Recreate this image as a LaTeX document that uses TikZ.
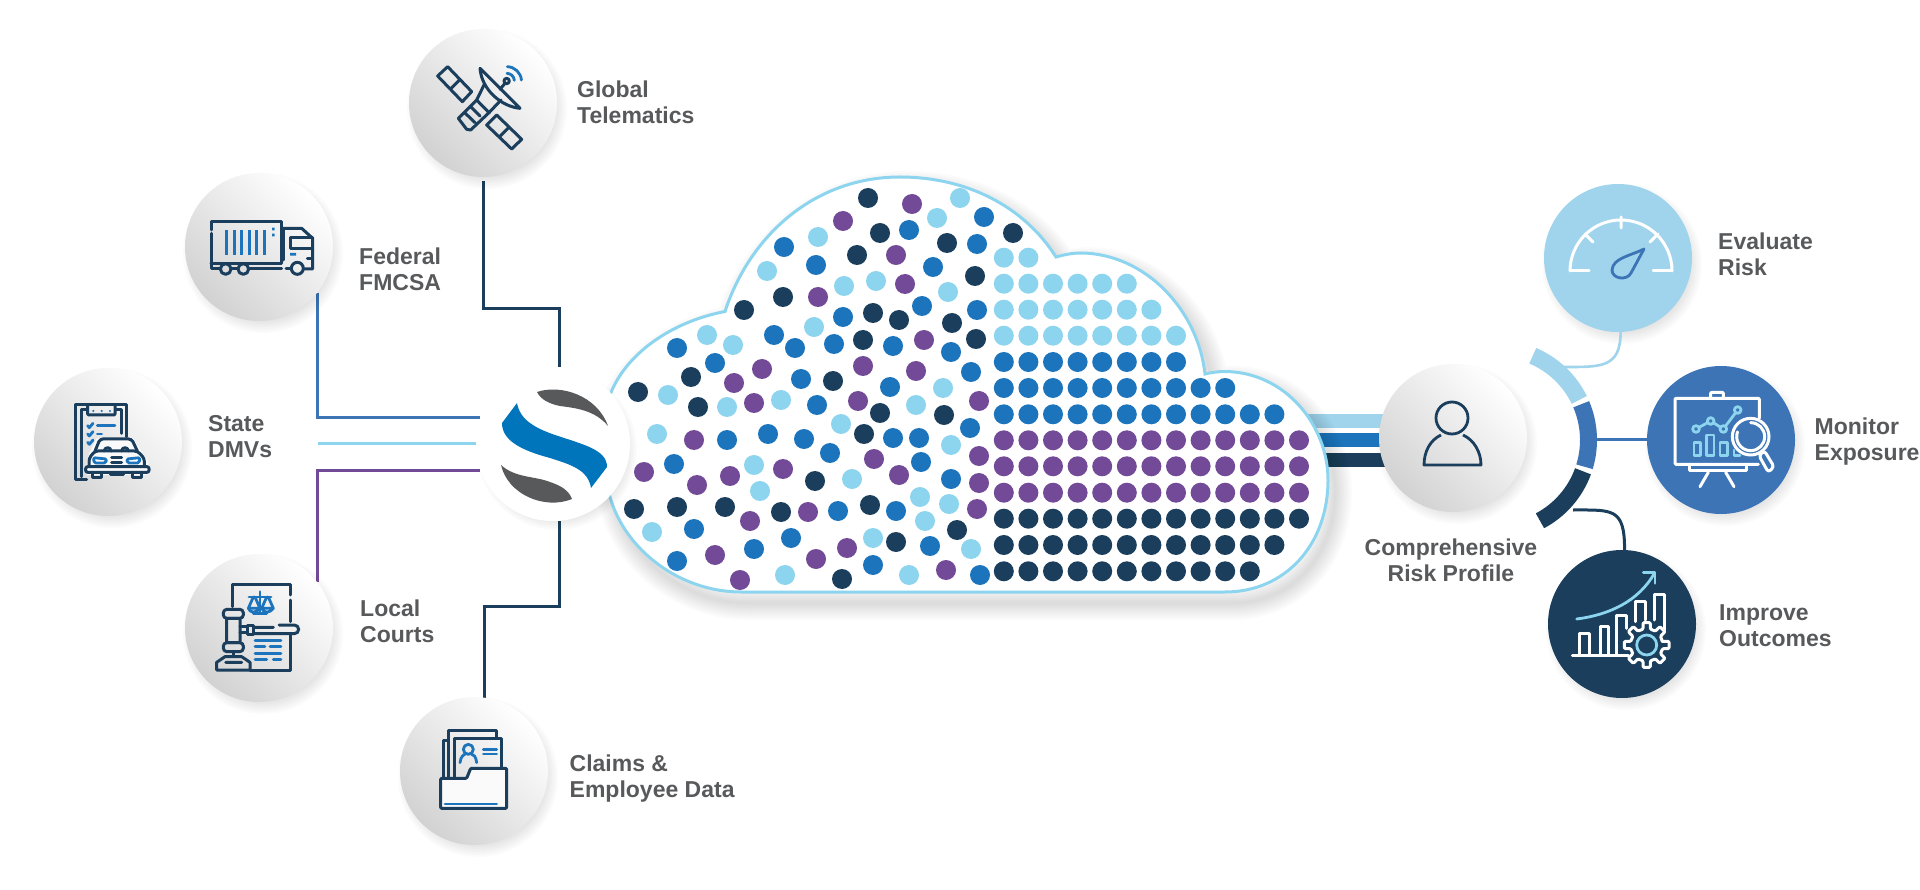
\documentclass[tikz,border=0pt]{standalone}
\usepackage{xcolor}
\usepackage{tikz}
\usepackage{fontspec}
\setmainfont{Liberation Sans}
\definecolor{navy}{HTML}{1A3E5C}
\definecolor{midblue}{HTML}{1C75BC}
\definecolor{steel}{HTML}{3C74B6}
\definecolor{sky}{HTML}{8DD5EE}
\definecolor{palesky}{HTML}{9FD4EC}
\definecolor{grape}{HTML}{734A98}
\definecolor{slate}{HTML}{58595B}
\definecolor{logoblue}{HTML}{0075BB}
\definecolor{discgrey}{HTML}{D2D2D2}
\pgfdeclarelayer{wires}
\pgfsetlayers{wires,main}
\tikzset{
    greydisc/.style={circle,minimum size=148pt,inner sep=0pt,shading=axis,top color=white,middle color=white!98!black,bottom color=discgrey,shading angle=-45},
    tonedisc/.style={circle,minimum size=148pt,inner sep=0pt,fill=#1},
    wire/.style={line width=3pt,color=#1},
    ringpart/.style={line width=17pt,color=#1},
    feedbar/.style={line width=14pt,color=#1},
    caption/.style={text=slate,font=\fontsize{23}{26}\selectfont\bfseries,align=left,anchor=west,inner sep=0pt},
    navyicon/.style={line width=3pt,color=navy,line join=round,line cap=round},
    blueicon/.style={line width=2.8pt,color=midblue,line join=round,line cap=round},
    whiteicon/.style={line width=3pt,color=white,line join=round,line cap=round},
    skyicon/.style={line width=2.8pt,color=sky,line join=round,line cap=round},
}
\newcommand{\discshadow}[2]{
    \foreach \r in {80,78,...,68}
        \fill[black,opacity=.016] (#1+4,#2+6) circle[radius=\r];
}
\newcommand{\cloudpath}{
    (741,592) -- (1225,592)
    .. controls (1285,592) and (1328,545) .. (1328,480)
    .. controls (1328,425) and (1285,372) .. (1225,371.5)
    .. controls (1218,371.5) and (1211,372.5) .. (1205,374)
    .. controls (1198,310) and (1145,253) .. (1080,253)
    .. controls (1072,253) and (1063,255) .. (1056,257)
    .. controls (1023,205) and (965,177) .. (900,177)
    .. controls (815,177) and (750,235) .. (725,311.5)
    .. controls (670,322) and (625,355) .. (610,395)
    .. controls (598,430) and (598,465) .. (610,497)
    .. controls (625,550) and (680,592) .. (741,592) -- cycle
}
\begin{document}
\begin{tikzpicture}[x=1pt,y=-1pt]
    \useasboundingbox (0,0) rectangle (1920,890);

    \begin{scope}[shift={(7,11)}]
        \foreach \w in {34,30,...,2}
            \draw[black,opacity=.016,line width=\w pt,line join=round] \cloudpath;
    \end{scope}
    \draw[sky,line width=3pt,fill=white] \cloudpath;

    \foreach \px/\py in {868/198,880/233,857/255,947/243,1013/233,975/276,783/297,744/310,873/313,899/320,952/323,976/339,863/340,691/377,833/381,638/392,698/407,880/413,944/415,864/434,815/481,634/509,677/507,725/507,781/512,870/505,957/530,896/542,842/579}
        \fill[navy] (\px,\py) circle[radius=10];
    \foreach \px/\py in {912/204,843/221,896/255,905/284,818/297,924/340,762/369,863/366,916/371,734/383,754/403,858/401,979/401,694/440,874/459,979/456,644/472,730/476,783/469,697/485,899/475,979/483,808/512,750/521,977/509,715/555,847/548,816/559,740/580,946/570}
        \fill[grape] (\px,\py) circle[radius=10];
    \foreach \px/\py in {984/217,909/230,784/247,977/244,816/265,933/267,922/306,977/310,843/317,774/335,677/348,795/348,834/344,893/346,951/352,715/363,971/372,801/379,890/387,817/405,970/428,727/440,768/434,804/439,893/438,919/438,830/453,674/464,921/462,951/479,838/511,896/511,694/529,791/538,754/549,930/546,677/561,873/565,980/575}
        \fill[midblue] (\px,\py) circle[radius=10];
    \foreach \px/\py in {960/198,937/218,818/237,767/271,948/292,844/286,876/281,814/327,707/335,733/345,943/388,668/395,727/407,781/400,916/405,657/434,841/424,951/445,754/465,852/479,760/491,920/497,949/504,925/521,652/532,873/538,971/549,785/575,909/575}
        \fill[sky] (\px,\py) circle[radius=10];
    \foreach \py/\n/\tone in {257.7/2/sky,283.7/6/sky,309.7/7/sky,335.7/8/sky,362/8/midblue,388/10/midblue,414.3/12/midblue,440.3/13/grape,466.3/13/grape,492.7/13/grape,518.7/13/navy,545/12/navy,571.3/11/navy}
        \foreach \k in {1,...,\n}
            \fill[\tone] ({1003.8+(\k-1)*24.6},\py) circle[radius=10];

    \foreach \name/\px/\py in {telematics/483/103,fmcsa/259/247,dmvs/108/442,courts/259/628,claims/474/771,profile/1453/438}{
        \discshadow{\px}{\py}
        \node[greydisc] (\name) at (\px,\py) {};
    }
    \discshadow{553}{444}
    \node[circle,minimum size=154pt,inner sep=0pt,fill=white] (logo) at (553,444) {};
    \discshadow{1618}{258}
    \node[tonedisc=palesky] (evaluate) at (1618,258) {};
    \discshadow{1721}{440}
    \node[tonedisc=steel] (monitor) at (1721,440) {};
    \discshadow{1622}{624}
    \node[tonedisc=navy] (improve) at (1622,624) {};

    \coordinate (dmvwire) at (317.5,444);
    \coordinate (barsky) at (1300,421);
    \coordinate (barblue) at (1300,440);
    \coordinate (barnavy) at (1300,460);
    \coordinate (ringmid) at (1497,440);
    \coordinate (ringsky) at (1563,367);
    \coordinate (ringsteel) at (1597,440);
    \coordinate (ringnavy) at (1573,510);

    \begin{pgfonlayer}{wires}
        \draw[wire=navy,shorten <=4pt] (telematics.south) -- ++(0,131) -| (logo.85);
        \draw[wire=steel] (fmcsa.-38) |- (logo.160);
        \draw[wire=sky] (dmvwire) -- (logo.west);
        \draw[wire=grape] (courts.38) |- (logo.200);
        \draw[wire=navy] (logo.-85) -- ++(0,86) -| (claims.82);
        \draw[feedbar=palesky] (barsky) -- (barsky -| profile);
        \draw[feedbar=midblue] (barblue) -- (barblue -| profile);
        \draw[feedbar=navy] (barnavy) -- (barnavy -| profile);
    \end{pgfonlayer}

    \draw[ringpart=palesky] ([shift={(-67:91.5)}]ringmid) arc[start angle=-67,end angle=-26,radius=91.5];
    \draw[ringpart=steel] ([shift={(-23:91.5)}]ringmid) arc[start angle=-23,end angle=17,radius=91.5];
    \draw[ringpart=navy] ([shift={(20:91.5)}]ringmid) arc[start angle=20,end angle=62,radius=91.5];
    \draw[line width=2.6pt,palesky] (evaluate.-88) .. controls +(0,36) and +(38,0) .. (ringsky);
    \draw[wire=steel] (ringsteel) -- (monitor.west);
    \draw[wire=navy] (improve.88) .. controls +(0,-42) and +(40,0) .. (ringnavy);

    \fill[slate] (537,392) .. controls (560,384) and (597,395) .. (608,426) .. controls (595,410) and (575,408) .. (560,406) .. controls (550,404) and (541,400) .. (537,392) -- cycle;
    \fill[logoblue] (517,403) .. controls (520,420) and (535,428) .. (555,435) .. controls (585,445) and (607,450) .. (607,467) -- (591,488) .. controls (588,470) and (572,465) .. (550,458) .. controls (520,450) and (502,440) .. (502,423) -- cycle;
    \fill[slate] (501,465) .. controls (515,478) and (535,476) .. (550,482) .. controls (562,486) and (569,491) .. (572,499) .. controls (545,510) and (508,495) .. (501,465) -- cycle;

    \begin{scope}[shift={(425,50)},scale=1/3]
        \draw[navyicon] (38,78) -- (68,50) -- (140,125) -- (112,155) -- cycle (76,118) -- (105,88);
        \draw[navyicon] (215,195) -- (185,225) -- (260,297) -- (290,268) -- cycle (222,262) -- (252,232);
        \draw[navyicon] (100,205) -- (155,150) -- (192,188) -- (137,240) -- (125,238) -- cycle (118,187) -- (150,218) (137,170) -- (165,198);
        \draw[navyicon] (155,150) -- (178,103) (192,188) -- (228,150);
        \draw[navyicon] (165,55) -- (285,175) .. controls (230,170) and (170,120) .. (165,55) -- cycle;
        \draw[navyicon] (225,118) -- (240,100);
        \draw[navyicon] (245,93) circle[radius=8];
        \draw[blueicon] (246,70) arc[start angle=-88,end angle=-5,radius=23];
        \draw[blueicon] (247,50) arc[start angle=-88,end angle=-5,radius=44];
    \end{scope}

    \begin{scope}[shift={(200,205)},scale=1/3]
        \draw[navyicon] (33,75) -- (33,50) -- (243,50) -- (243,175) -- (33,175);
        \draw[navyicon] (33,85) -- (33,190) -- (60,190) (95,190) -- (113,190) (150,190) -- (245,190) (258,190) -- (272,190);
        \draw[navyicon] (77,192) circle[radius=16] (130,192) circle[radius=16] (292,190) circle[radius=18];
        \draw[navyicon] (250,165) -- (250,70) -- (305,70) -- (338,100) -- (338,192) -- (314,192);
        \draw[navyicon] (338,97) -- (272,97) -- (272,130) -- (338,130);
        \draw[navyicon] (322,160) -- (338,160);
        \foreach \k in {80,103,125,148,170,193}
            \draw[line width=2.7pt,midblue] (\k,75) -- (\k,150);
        \fill[midblue] (216,68) rectangle (224,76) (216,86) rectangle (224,94) (270,144) rectangle (288,152);
    \end{scope}

    \begin{scope}[shift={(65,395)},scale=1/3]
        \draw[navyicon] (65,255) -- (30,255) -- (30,30) -- (185,30) -- (185,125);
        \draw[navyicon] (48,245) -- (48,45) -- (65,45) (152,45) -- (170,45) -- (170,115);
        \draw[navyicon,rounded corners=1pt] (68,33) -- (68,60) -- (150,60) -- (150,33);
        \foreach \k in {85,110,135}
            \fill[midblue] (\k,48) circle[radius=3.5];
        \foreach \k in {92,117,142}
            \draw[blueicon] (68,\k) -- (73,\k+6) -- (84,\k-7);
        \draw[blueicon] (97,92) -- (150,92) (97,117) -- (110,117);
        \fill[white!98!black] (95,130) -- (205,130) -- (230,170) -- (250,200) -- (250,240) -- (65,240) -- (65,200) -- (75,170) -- cycle;
        \draw[navyicon,rounded corners=3pt] (90,168) -- (105,132) -- (200,132) -- (217,168);
        \draw[navyicon,rounded corners=3pt] (72,215) -- (72,190) -- (90,168) -- (217,168) -- (238,190) -- (238,215);
        \draw[navyicon,rounded corners=2pt] (62,215) -- (252,215) -- (252,232) -- (62,232) -- cycle;
        \draw[navyicon] (118,168) arc[start angle=180,end angle=360,radius=10];
        \draw[navyicon] (170,168) arc[start angle=180,end angle=360,radius=10];
        \draw[blueicon,rounded corners=1.5pt] (85,188) -- (125,192) -- (122,204) -- (88,204) -- cycle;
        \draw[blueicon,rounded corners=1.5pt] (225,188) -- (185,192) -- (188,204) -- (222,204) -- cycle;
        \draw[navyicon] (140,188) -- (170,188) (140,203) -- (170,203);
        \draw[navyicon] (135,232) rectangle (175,240);
        \draw[navyicon] (82,232) -- (82,248) -- (108,248) -- (108,232) (202,232) -- (202,248) -- (228,248) -- (228,232);
    \end{scope}

    \begin{scope}[shift={(205,575)},scale=1/3]
        \draw[navyicon] (82,95) -- (82,28) -- (255,28) -- (255,60) (255,75) -- (255,140) (255,178) -- (255,285) -- (135,285);
        \draw[blueicon] (165,50) -- (165,115) (145,115) -- (185,115) (132,66) -- (198,66);
        \draw[blueicon] (145,66) -- (130,100) -- (165,100) -- (150,66) (130,100) .. controls (135,115) and (155,115) .. (165,100);
        \draw[blueicon] (185,66) -- (170,100) -- (205,100) -- (190,66) (170,100) .. controls (175,115) and (195,115) .. (205,100);
        \draw[blueicon] (150,197) -- (228,197) (150,215) -- (180,215) (195,215) -- (228,215) (150,235) -- (228,235) (150,253) -- (185,253) (205,253) -- (228,253);
        \draw[navyicon,rounded corners=3.5pt] (55,103) rectangle (115,130);
        \draw[navyicon,rounded corners=1pt] (65,130) rectangle (105,203);
        \draw[navyicon,rounded corners=3.5pt] (55,203) rectangle (115,230);
        \draw[navyicon] (105,155) -- (127,155) (105,172) -- (127,172) (127,150) rectangle (145,177);
        \draw[navyicon] (145,157) -- (205,157) (222,150) -- (268,150) arc[start angle=-90,end angle=90,radius=13] -- (145,176);
        \draw[navyicon] (85,230) -- (85,245);
        \draw[navyicon] (60,245) -- (110,245) -- (135,262) -- (135,285) -- (35,285) -- (35,262) -- cycle (62,262) -- (110,262);
    \end{scope}

    \begin{scope}[shift={(430,720)},scale=1/3]
        \draw[navyicon] (40,170) -- (40,60) -- (55,60);
        \draw[navyicon] (55,170) -- (55,32) -- (200,32) -- (200,52);
        \draw[navyicon] (72,170) -- (72,55) -- (215,55) -- (215,145);
        \draw[blueicon] (115,88) circle[radius=15];
        \draw[blueicon] (90,128) .. controls (92,108) and (102,104) .. (106,102) (124,102) .. controls (130,104) and (138,108) .. (140,128);
        \draw[blueicon] (160,88) -- (200,88) (160,102) -- (200,102);
        \fill[white!98!black] (32,175) -- (110,175) -- (122,145) -- (230,145) -- (230,265) -- (32,265) -- cycle;
        \draw[navyicon,rounded corners=1pt] (32,175) -- (110,175) -- (122,145) -- (230,145) -- (230,265) -- (32,265) -- cycle;
        \draw[blueicon] (45,252) -- (200,252);
    \end{scope}

    \draw[whiteicon] (1570,271) -- (1589,271);
    \draw[whiteicon] (1653,271) -- (1672,271);
    \draw[whiteicon] (1570,271) arc[start angle=180,end angle=360,radius=51];
    \draw[whiteicon] (1621,217) -- (1621,228) (1585,234) -- (1593,242) (1658,234) -- (1650,242);
    \draw[line width=2.8pt,steel,line join=round] (1644,249) .. controls (1630,256) and (1613,258) .. (1612,270) .. controls (1612,279) and (1627,281) .. (1631,273) -- cycle;

    \draw[line width=2.8pt,navy] (1452,418) circle[radius=16];
    \draw[line width=2.8pt,navy,line join=round] (1441,435) .. controls (1430,440) and (1424,452) .. (1424,465) -- (1481,465) .. controls (1481,452) and (1474,440) .. (1463,435);

    \begin{scope}[shift={(1660,385)},scale=1/3]
        \draw[whiteicon,rounded corners=1pt] (298,100) -- (298,40) -- (45,40) -- (45,238) -- (295,238);
        \draw[whiteicon,rounded corners=1pt] (152,40) -- (152,22) -- (190,22) -- (190,40);
        \draw[whiteicon] (88,238) -- (88,258) -- (260,258) -- (260,240);
        \draw[whiteicon] (145,262) -- (120,305) (197,262) -- (222,305);
        \draw[skyicon] (108,132) -- (152,108) -- (190,132) -- (233,75);
        \foreach \px/\py in {108/132,152/108,190/132,233/75}
            \draw[skyicon,fill=steel] (\px,\py) circle[radius=10];
        \draw[skyicon] (102,172) rectangle (122,212) (140,150) rectangle (162,212) (180,172) rectangle (202,212) (222,195) -- (222,212) -- (240,212);
        \draw[whiteicon,fill=steel] (272,155) circle[radius=55];
        \draw[whiteicon] (272,113) arc[start angle=-90,end angle=200,radius=42];
        \draw[whiteicon,rounded corners=3pt] (297,212) -- (313,197) -- (342,245) -- (325,262) -- cycle;
    \end{scope}

    \begin{scope}[shift={(1565,565)},scale=1/3]
        \draw[whiteicon] (22,272) -- (190,272);
        \draw[whiteicon] (42,272) -- (42,205) -- (72,205) -- (72,272);
        \draw[whiteicon] (105,272) -- (105,185) -- (130,185) -- (130,272);
        \draw[whiteicon] (155,272) -- (155,150) -- (185,150) -- (185,190);
        \draw[whiteicon] (212,170) -- (212,108) -- (240,108) -- (240,165);
        \draw[whiteicon] (268,165) -- (268,88) -- (298,88) -- (298,195);
        \draw[skyicon] (35,162) .. controls (130,150) and (220,110) .. (268,25);
        \draw[skyicon] (235,22) -- (270,22) -- (270,55);
        \draw[whiteicon,fill=navy,rounded corners=1pt] (245,240) ++(-14:48) \foreach \a in {0,45,...,315}{
            -- ([shift={(245,240)}]{\a-13}:49) -- ([shift={(245,240)}]{\a-9}:68) -- ([shift={(245,240)}]{\a+9}:68) -- ([shift={(245,240)}]{\a+13}:49)
        } -- cycle;
        \draw[skyicon] (245,240) circle[radius=30];
    \end{scope}

    \node[caption] (telematicstext) at (577,102) {Global\\Telematics};
    \node[caption] (fmcsatext) at (359,269.5) {Federal\\FMCSA};
    \node[caption] (dmvstext) at (208,436.5) {State\\DMVs};
    \node[caption] (courtstext) at (360,621) {Local\\Courts};
    \node[caption] (claimstext) at (569.5,779) {Claims \&\\Employee Data};
    \node[caption,align=center,anchor=center] (profiletext) at (1451,560.5) {Comprehensive\\Risk Profile};
    \node[caption] (evaluatetext) at (1718,254.5) {Evaluate\\Risk};
    \node[caption] (monitortext) at (1814.5,442) {Monitor\\Exposure};
    \node[caption] (improvetext) at (1719,626) {Improve\\Outcomes};
\end{tikzpicture}
\end{document}
